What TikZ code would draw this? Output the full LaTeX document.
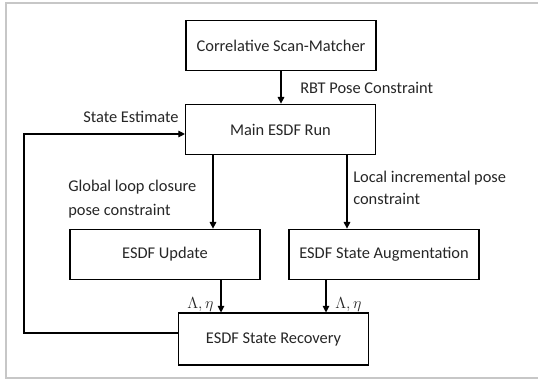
\documentclass[tikz,border=0pt]{standalone}
\usepackage{fontspec}
\setmainfont{Carlito}
\usetikzlibrary{arrows.meta}
\begin{document}
\begin{tikzpicture}[x=0.75pt,y=-0.75pt,
  box/.style={draw=black,line width=0.8pt,minimum width=142.5pt,minimum height=38pt,inner sep=0pt,font=\fontsize{12.3}{14}\selectfont,text=black!85},
  lbl/.style={anchor=west,inner sep=0pt,font=\fontsize{12.3}{14}\selectfont,text=black!85},
  arr/.style={line width=0.8pt,-{Triangle[width=5pt,length=5pt]}},
  ln/.style={line width=0.8pt}]
\useasboundingbox (0,0) rectangle (538,381);
\draw[draw=black!22,line width=0.9pt] (538,3) -- (6,3) -- (6,378) -- (538,378);
\node[box] (scan) at (281,45.5) {Correlative Scan-Matcher};
\node[box] (main) at (280.5,129.5) {Main ESDF Run};
\node[box] (upd) at (165,254.5) {ESDF Update};
\node[box] (aug) at (384,254.5) {ESDF State Augmentation};
\node[box,minimum height=39pt] (rec) at (273.5,339) {ESDF State Recovery};
\coordinate (a1) at (213,0);
\coordinate (a2) at (347,0);
\coordinate (a3) at (221,0);
\coordinate (a4) at (326,0);
\coordinate (fb1) at (24,333);
\coordinate (fb2) at (24,134);
\draw[arr] (scan.south) -- (scan.south |- main.north);
\draw[arr] (main.south -| a1) -- (upd.north -| a1);
\draw[arr] (main.south -| a2) -- (aug.north -| a2);
\draw[arr] (upd.south -| a3) -- (rec.north -| a3);
\draw[arr] (aug.south -| a4) -- (rec.north -| a4);
\draw[arr] (rec.west |- fb1) -- (fb1) -- (fb2) -- (main.west |- fb2);
\node[lbl] (rbt) at (300,88) {RBT Pose Constraint};
\node[lbl] (se) at (83,117) {State Estimate};
\node[lbl,align=left,font=\fontsize{12.3}{18}\selectfont] (glc) at (68,199) {Global loop closure\\pose constraint};
\node[lbl,align=left,font=\fontsize{12.3}{16.5}\selectfont] (lip) at (353,188) {Local incremental pose\\constraint};
\node[lbl] (le1) at (187,305) {$\Lambda,\eta$};
\node[lbl] (le2) at (335,305) {$\Lambda,\eta$};
\end{tikzpicture}
\end{document}
